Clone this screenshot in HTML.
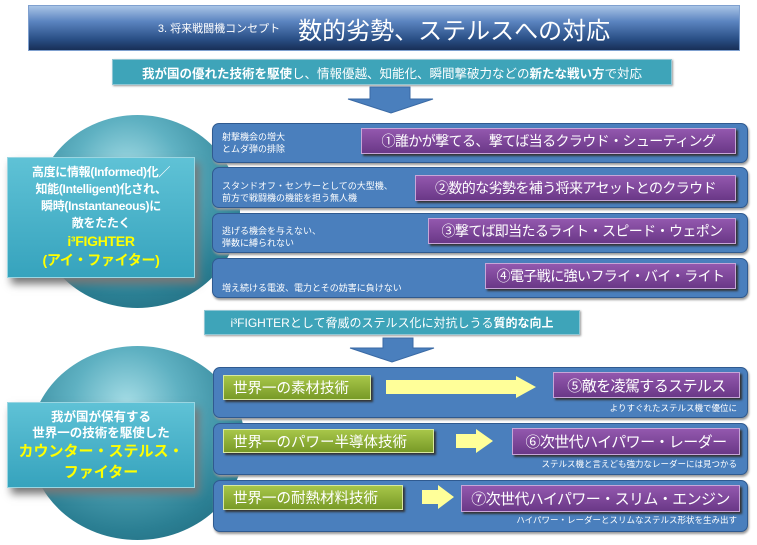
<!DOCTYPE html>
<html><head><meta charset="utf-8"><style>
*{margin:0;padding:0;box-sizing:border-box}
body{width:757px;height:545px;background:#fff;position:relative;overflow:hidden;font-family:"Liberation Sans","Noto Sans CJK JP",sans-serif}
.a{position:absolute}
.title{left:28px;top:5px;width:712px;height:46px;background:linear-gradient(#a9c4e6 0%,#5b84c0 35%,#2a4f86 75%,#182f57 100%);border:1px solid #7fa0cf;color:#fff;display:flex;align-items:center;justify-content:center}
.teal{background:#3ea4b9;border:1px solid #8fc6d4;color:#fff;display:flex;align-items:center;justify-content:center;box-shadow:1px 1px 2px #999;white-space:nowrap}
.panel{background:#4a7fbd;border:1.5px solid #2f5a90;border-radius:7px;box-shadow:1px 2px 2px #999}
.pur{background:linear-gradient(#9358ae,#6a3887);border:1px solid #c7a6d8;color:#fff;display:flex;align-items:center;justify-content:center;box-shadow:2px 2px 2px #333;font-size:14px;letter-spacing:-0.6px;white-space:nowrap;overflow:hidden}
.grn{background:linear-gradient(#a7c649,#789a27);border:1px solid #d8e8a0;color:#fff;display:flex;align-items:center;padding-left:9px;box-shadow:2px 2px 2px #333;font-size:14.5px;white-space:nowrap}
.sm{color:#fff;font-size:9px;line-height:12px;white-space:nowrap}
.cap{color:#fff;font-size:8.5px;white-space:nowrap;text-align:right}
.lb{background:linear-gradient(#5fc2d6,#36a3bd);border:1px solid #9ad6e2;color:#fff;text-align:center;font-weight:bold;box-shadow:4px 6px 8px #777;white-space:nowrap}
.ell{border-radius:50%;background:radial-gradient(circle at 45% 30%,#a6dde6 0%,#5fb1c2 30%,#2b7f93 70%,#1c6073 100%)}
</style></head><body>
<div class="a title"><span style="font-size:11px;margin-right:18px">3. 将来戦闘機コンセプト</span><span style="font-size:24px">数的劣勢、ステルスへの対応</span></div>
<div class="a teal" style="left:112px;top:59px;width:560px;height:26px;font-size:12.5px"><b>我が国の優れた技術を駆使</b>し、情報優越、知能化、瞬間撃破力などの<b>新たな戦い方</b>で対応</div>
<svg class="a" style="left:0;top:0" width="757" height="545">
<polygon points="370,87 410,87 410,99 433,99 391,113 348,99 370,99" fill="#4a7fbd" stroke="#3a6aa5"/>
<polygon points="383,338 413,338 413,348 434,348 392,362 350,348 383,348" fill="#4a7fbd" stroke="#3a6aa5"/>
</svg>
<div class="a ell" style="left:35px;top:115px;width:205px;height:193px"></div>
<div class="a ell" style="left:30px;top:346px;width:215px;height:194px"></div>

<div class="a panel" style="left:212px;top:123px;width:536px;height:40px"></div>
<div class="a panel" style="left:212px;top:167px;width:536px;height:41px"></div>
<div class="a panel" style="left:212px;top:213px;width:536px;height:40px"></div>
<div class="a panel" style="left:212px;top:258px;width:536px;height:40px"></div>
<div class="a sm" style="left:222px;top:131px">射撃機会の増大<br>とムダ弾の排除</div>
<div class="a sm" style="left:222px;top:180px">スタンドオフ・センサーとしての大型機、<br>前方で戦闘機の機能を担う無人機</div>
<div class="a sm" style="left:222px;top:225px">逃げる機会を与えない、<br>弾数に縛られない</div>
<div class="a sm" style="left:222px;top:282px">増え続ける電波、電力とその妨害に負けない</div>
<div class="a pur" style="left:361px;top:128px;width:375px;height:26px">①誰かが撃てる、撃てば当るクラウド・シューティング</div>
<div class="a pur" style="left:415px;top:175px;width:321px;height:26px">②数的な劣勢を補う将来アセットとのクラウド</div>
<div class="a pur" style="left:428px;top:218px;width:308px;height:26px">③撃てば即当たるライト・スピード・ウェポン</div>
<div class="a pur" style="left:485px;top:263px;width:251px;height:26px">④電子戦に強いフライ・バイ・ライト</div>

<div class="a lb" style="left:7px;top:157px;width:188px;height:121px;font-size:12px;line-height:17px;padding-top:6px;letter-spacing:-0.3px">高度に情報(Informed)化／<br>知能(Intelligent)化され、<br>瞬時(Instantaneous)に<br>敵をたたく<br><span style="color:#ffff00;font-size:14px;line-height:19px">i³FIGHTER<br>(アイ・ファイター)</span></div>

<div class="a teal" style="left:204px;top:310px;width:376px;height:25px;font-size:12px">i³FIGHTERとして脅威のステルス化に対抗しうる<b>質的な向上</b></div>

<div class="a panel" style="left:213px;top:367px;width:535px;height:51px"></div>
<div class="a panel" style="left:213px;top:423px;width:535px;height:52px"></div>
<div class="a panel" style="left:213px;top:480px;width:535px;height:52px"></div>
<div class="a grn" style="left:223px;top:375px;width:148px;height:25px">世界一の素材技術</div>
<div class="a grn" style="left:223px;top:429px;width:211px;height:24px">世界一のパワー半導体技術</div>
<div class="a grn" style="left:223px;top:485px;width:180px;height:25px">世界一の耐熱材料技術</div>
<svg class="a" style="left:0;top:0" width="757" height="545">
<polygon points="386,380 516,380 516,376 536,387 516,398 516,394 386,394" fill="#ffff99"/>
<polygon points="456,434 476,434 476,429 493,441 476,453 476,448 456,448" fill="#ffff99"/>
<polygon points="422,490 438,490 438,485 454,497 438,509 438,504 422,504" fill="#ffff99"/>
</svg>
<div class="a pur" style="left:553px;top:372px;width:187px;height:26px;font-size:15px">⑤敵を凌駕するステルス</div>
<div class="a pur" style="left:512px;top:428px;width:228px;height:27px;font-size:15px">⑥次世代ハイパワー・レーダー</div>
<div class="a pur" style="left:461px;top:485px;width:279px;height:27px;font-size:15px">⑦次世代ハイパワー・スリム・エンジン</div>
<div class="a cap" style="right:20px;top:402px">よりすぐれたステルス機で優位に</div>
<div class="a cap" style="right:20px;top:458px">ステルス機と言えども強力なレーダーには見つかる</div>
<div class="a cap" style="right:20px;top:514px">ハイパワー・レーダーとスリムなステルス形状を生み出す</div>

<div class="a lb" style="left:7px;top:402px;width:188px;height:86px;font-size:12.5px;line-height:16px;padding-top:6px">我が国が保有する<br>世界一の技術を駆使した<br><span style="color:#ffff00;font-size:15px;line-height:21px">カウンター・ステルス・<br>ファイター</span></div>
</body></html>
